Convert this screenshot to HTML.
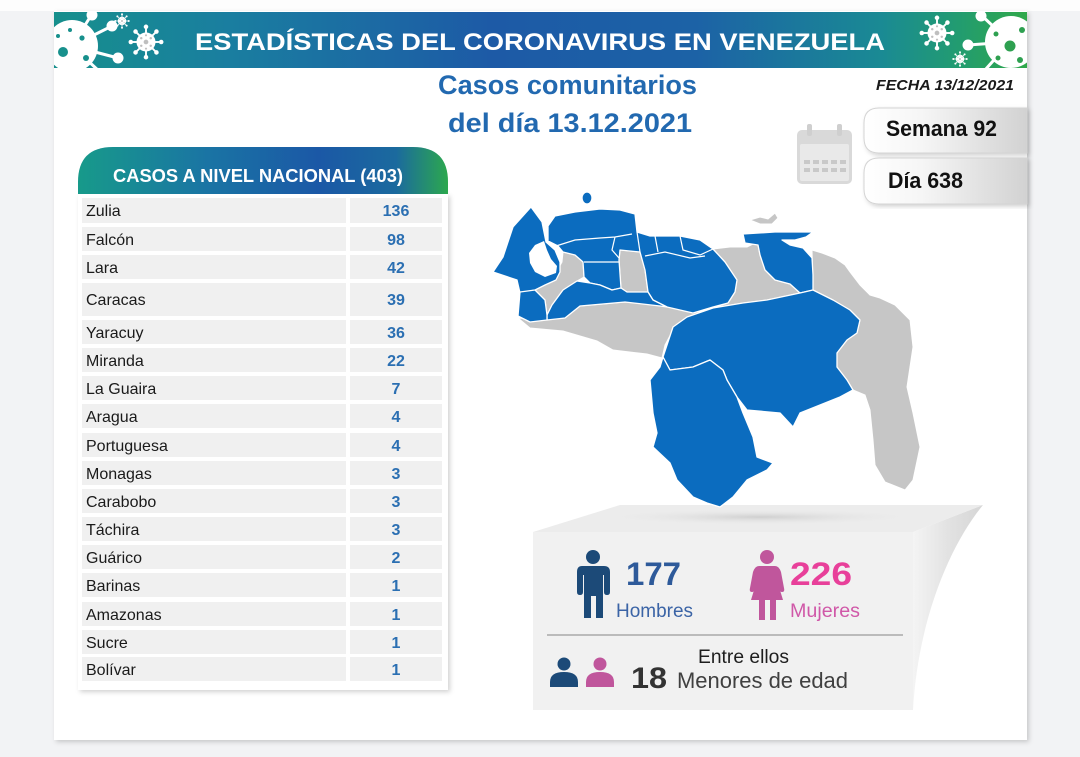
<!DOCTYPE html>
<html><head><meta charset="utf-8"><style>
html,body{margin:0;padding:0;background:#f2f3f5;}
svg{display:block;font-family:"Liberation Sans",sans-serif;}
</style></head><body>
<svg width="1080" height="757" viewBox="0 0 1080 757" xmlns="http://www.w3.org/2000/svg">
<defs>
<linearGradient id="hg" x1="0" y1="0" x2="1" y2="0">
<stop offset="0" stop-color="#168f8c"/><stop offset="0.18" stop-color="#1a7ea0"/><stop offset="0.45" stop-color="#1d5aa6"/><stop offset="0.66" stop-color="#1c62a6"/><stop offset="0.85" stop-color="#1a8a94"/><stop offset="0.93" stop-color="#229c70"/><stop offset="1" stop-color="#30a84a"/>
</linearGradient>
<linearGradient id="tg" x1="0" y1="0" x2="1" y2="0">
<stop offset="0" stop-color="#179a8a"/><stop offset="0.35" stop-color="#1a74a4"/><stop offset="0.65" stop-color="#1b58a6"/><stop offset="0.86" stop-color="#1b6a9e"/><stop offset="1" stop-color="#2ca84e"/>
</linearGradient>
<linearGradient id="bg" x1="0" y1="0" x2="1" y2="0">
<stop offset="0" stop-color="#ffffff"/><stop offset="0.35" stop-color="#f6f6f6"/><stop offset="1" stop-color="#d2d2d2"/>
</linearGradient>
<linearGradient id="sg" x1="0" y1="0" x2="1" y2="0">
<stop offset="0" stop-color="#f4f4f4"/><stop offset="0.5" stop-color="#e2e2e2"/><stop offset="1" stop-color="#d6d6d6"/>
</linearGradient>
<radialGradient id="msh" cx="0.5" cy="0.5" r="0.5">
<stop offset="0" stop-color="#cfcfcf"/><stop offset="1" stop-color="#ececec" stop-opacity="0"/>
</radialGradient>
<filter id="ds" x="-10%" y="-10%" width="120%" height="120%"><feDropShadow dx="2" dy="2" stdDeviation="2.5" flood-opacity="0.18"/></filter>
<clipPath id="hc"><rect x="54" y="12" width="973" height="56"/></clipPath>
<g id="vir">
<g stroke="#fff" stroke-width="2">
<line x1="0" y1="0" x2="0" y2="-16"/><line x1="0" y1="0" x2="0" y2="16"/><line x1="0" y1="0" x2="-16" y2="0"/><line x1="0" y1="0" x2="16" y2="0"/>
<line x1="0" y1="0" x2="11" y2="11"/><line x1="0" y1="0" x2="-11" y2="11"/><line x1="0" y1="0" x2="11" y2="-11"/><line x1="0" y1="0" x2="-11" y2="-11"/>
</g>
<g fill="#fff"><circle r="10"/><circle cy="-16" r="2.4"/><circle cy="16" r="2.4"/><circle cx="-16" r="2.4"/><circle cx="16" r="2.4"/><circle cx="11" cy="11" r="2.4"/><circle cx="-11" cy="11" r="2.4"/><circle cx="11" cy="-11" r="2.4"/><circle cx="-11" cy="-11" r="2.4"/></g>
<g fill="#000" fill-opacity="0.25"><circle r="2.5"/><circle cx="-5" cy="-4" r="1.3"/><circle cx="5" cy="-4" r="1.3"/><circle cx="-5" cy="4" r="1.3"/><circle cx="5" cy="4" r="1.3"/><circle cy="-7" r="1.1"/><circle cy="7" r="1.1"/></g>
</g>
</defs>

<!-- background & card -->
<rect x="0" y="0" width="1080" height="757" fill="#f2f3f5"/>
<rect x="0" y="0" width="1080" height="11" fill="#fdfdfd"/>
<rect x="54" y="11" width="973" height="729" fill="#ffffff" filter="url(#ds)"/>

<!-- header band -->
<rect x="54" y="12" width="973" height="56" fill="url(#hg)"/>
<g clip-path="url(#hc)">
 <g stroke="#fff" stroke-width="3" fill="#fff">
  <line x1="72" y1="46" x2="112" y2="26"/><circle cx="112" cy="26" r="4"/>
  <line x1="72" y1="46" x2="118" y2="58"/><circle cx="118" cy="58" r="4"/>
  <line x1="72" y1="46" x2="92" y2="14"/><circle cx="92" cy="15" r="4"/>
  <line x1="72" y1="46" x2="100" y2="72"/>
  <line x1="1010" y1="42" x2="968" y2="45"/><circle cx="968" cy="45" r="4"/>
  <line x1="1010" y1="42" x2="980" y2="14"/><circle cx="981" cy="16" r="4"/>
  <line x1="1010" y1="42" x2="985" y2="70"/>
 </g>
 <circle cx="72" cy="46" r="26" fill="#fff"/>
 <g fill="#17908c"><circle cx="63" cy="52" r="5"/><circle cx="82" cy="38" r="2.6"/><circle cx="86" cy="58" r="3"/><circle cx="70" cy="30" r="2"/><circle cx="58" cy="36" r="2"/></g>
 <circle cx="1011" cy="42" r="26" fill="#fff"/>
 <g fill="#2ea050"><circle cx="1010" cy="46" r="5.5"/><circle cx="1022" cy="30" r="3"/><circle cx="996" cy="34" r="2.5"/><circle cx="998" cy="58" r="2.5"/><circle cx="1020" cy="60" r="3"/></g>
</g>
<use href="#vir" transform="translate(146,42) scale(0.95)"/>
<use href="#vir" transform="translate(122,21) scale(0.42)"/>
<use href="#vir" transform="translate(937,33) scale(0.95)"/>
<use href="#vir" transform="translate(960,59) scale(0.42)"/>
<text x="195" y="50" font-size="24" font-weight="bold" fill="#ffffff" textLength="690" lengthAdjust="spacingAndGlyphs">ESTADÍSTICAS DEL CORONAVIRUS EN VENEZUELA</text>

<!-- titles -->
<text x="438" y="94" font-size="27" font-weight="bold" fill="#2269b0" textLength="259" lengthAdjust="spacingAndGlyphs">Casos comunitarios</text>
<text x="448" y="132" font-size="27" font-weight="bold" fill="#2269b0" textLength="244" lengthAdjust="spacingAndGlyphs">del día 13.12.2021</text>
<text x="876" y="90" font-size="15" font-weight="bold" font-style="italic" fill="#1a1a1a" textLength="138" lengthAdjust="spacingAndGlyphs">FECHA 13/12/2021</text>

<!-- calendar icon -->
<g>
 <rect x="797" y="130" width="55" height="54" rx="5" fill="#d9d9d9"/>
 <rect x="800" y="144" width="49" height="37" rx="2" fill="#e9e9e9"/>
 <rect x="807" y="124" width="5" height="12" rx="2" fill="#cfcfcf"/>
 <rect x="837" y="124" width="5" height="12" rx="2" fill="#cfcfcf"/>
 <g fill="#c9c9c9">
  <rect x="804" y="160" width="6" height="4"/><rect x="813" y="160" width="6" height="4"/><rect x="822" y="160" width="6" height="4"/><rect x="831" y="160" width="6" height="4"/><rect x="840" y="160" width="6" height="4"/>
  <rect x="804" y="168" width="6" height="4"/><rect x="813" y="168" width="6" height="4"/><rect x="822" y="168" width="6" height="4"/><rect x="831" y="168" width="6" height="4"/><rect x="840" y="168" width="6" height="4"/>
 </g>
</g>

<!-- Semana / Día boxes -->
<path d="M879,108 H1027 V153 H879 Q864,153 864,138 V123 Q864,108 879,108 Z" fill="url(#bg)" stroke="#d4d4d4" filter="url(#ds)"/>
<path d="M879,158 H1027 V204 H879 Q864,204 864,189 V173 Q864,158 879,158 Z" fill="url(#bg)" stroke="#d4d4d4" filter="url(#ds)"/>
<text x="886" y="136" font-size="22" font-weight="bold" fill="#111" textLength="111" lengthAdjust="spacingAndGlyphs">Semana 92</text>
<text x="888" y="188" font-size="22" font-weight="bold" fill="#111" textLength="75" lengthAdjust="spacingAndGlyphs">Día 638</text>

<!-- table -->
<rect x="78" y="194" width="370" height="496" fill="#ffffff" filter="url(#ds)"/>
<path d="M78,194 V182 Q78,147 113,147 H413 Q448,147 448,182 V194 Z" fill="url(#tg)"/>
<text x="113" y="182" font-size="18" font-weight="bold" fill="#ffffff" textLength="290" lengthAdjust="spacingAndGlyphs">CASOS A NIVEL NACIONAL  (403)</text>
<g fill="#f0f0f0">
<rect x="82" y="198" width="264" height="25"/><rect x="350" y="198" width="92" height="25"/>
<rect x="82" y="227" width="264" height="24"/><rect x="350" y="227" width="92" height="24"/>
<rect x="82" y="255" width="264" height="24"/><rect x="350" y="255" width="92" height="24"/>
<rect x="82" y="283" width="264" height="33"/><rect x="350" y="283" width="92" height="33"/>
<rect x="82" y="320" width="264" height="24"/><rect x="350" y="320" width="92" height="24"/>
<rect x="82" y="348" width="264" height="24"/><rect x="350" y="348" width="92" height="24"/>
<rect x="82" y="376" width="264" height="24"/><rect x="350" y="376" width="92" height="24"/>
<rect x="82" y="404" width="264" height="24"/><rect x="350" y="404" width="92" height="24"/>
<rect x="82" y="433" width="264" height="24"/><rect x="350" y="433" width="92" height="24"/>
<rect x="82" y="461" width="264" height="24"/><rect x="350" y="461" width="92" height="24"/>
<rect x="82" y="489" width="264" height="24"/><rect x="350" y="489" width="92" height="24"/>
<rect x="82" y="517" width="264" height="24"/><rect x="350" y="517" width="92" height="24"/>
<rect x="82" y="545" width="264" height="24"/><rect x="350" y="545" width="92" height="24"/>
<rect x="82" y="573" width="264" height="24"/><rect x="350" y="573" width="92" height="24"/>
<rect x="82" y="602" width="264" height="24"/><rect x="350" y="602" width="92" height="24"/>
<rect x="82" y="630" width="264" height="24"/><rect x="350" y="630" width="92" height="24"/>
<rect x="82" y="657" width="264" height="24"/><rect x="350" y="657" width="92" height="24"/>
</g>
<g font-size="16" fill="#1a1a1a">
<text x="86" y="216">Zulia</text>
<text x="86" y="245">Falcón</text>
<text x="86" y="273">Lara</text>
<text x="86" y="305">Caracas</text>
<text x="86" y="338">Yaracuy</text>
<text x="86" y="366">Miranda</text>
<text x="86" y="394">La Guaira</text>
<text x="86" y="422">Aragua</text>
<text x="86" y="451">Portuguesa</text>
<text x="86" y="479">Monagas</text>
<text x="86" y="507">Carabobo</text>
<text x="86" y="535">Táchira</text>
<text x="86" y="563">Guárico</text>
<text x="86" y="591">Barinas</text>
<text x="86" y="620">Amazonas</text>
<text x="86" y="648">Sucre</text>
<text x="86" y="675">Bolívar</text>
</g>
<g font-size="16" font-weight="bold" fill="#2b6fb2" text-anchor="middle">
<text x="396" y="216">136</text>
<text x="396" y="245">98</text>
<text x="396" y="273">42</text>
<text x="396" y="305">39</text>
<text x="396" y="338">36</text>
<text x="396" y="366">22</text>
<text x="396" y="394">7</text>
<text x="396" y="422">4</text>
<text x="396" y="451">4</text>
<text x="396" y="479">3</text>
<text x="396" y="507">3</text>
<text x="396" y="535">3</text>
<text x="396" y="563">2</text>
<text x="396" y="591">1</text>
<text x="396" y="620">1</text>
<text x="396" y="648">1</text>
<text x="396" y="675">1</text>
</g>

<!-- gender panel -->
<path d="M983,505 C950,545 918,620 913,710 L913,532 Z" fill="url(#sg)"/>
<path d="M533,532 L620,505 L983,505 L913,532 Z" fill="#ececec"/>
<ellipse cx="760" cy="517" rx="160" ry="8" fill="url(#msh)"/>
<rect x="533" y="532" width="380" height="178" fill="#f1f1f1"/>
<!-- man -->
<g fill="#1c4a78">
 <circle cx="593" cy="557" r="7"/>
 <path d="M582,566 H604 Q610,566 610,572 V592 Q610,595 607,595 Q604,595 604,592 V575 H603 V618 H596 V596 H591 V618 H584 V575 H583 V592 Q583,595 580,595 Q577,595 577,592 V572 Q577,566 582,566 Z"/>
</g>
<!-- woman -->
<g fill="#c0569c">
 <circle cx="767" cy="557" r="7"/>
 <path d="M759,566 H775 Q779,566 781,572 L784,588 Q785,592 782,592 Q780,592 779,589 L776,577 L783,600 H776 V620 H770 V600 H765 V620 H759 V600 H751 L758,577 L755,589 Q754,592 752,592 Q749,592 750,588 L753,572 Q755,566 759,566 Z"/>
</g>
<text x="626" y="585" font-size="32" font-weight="bold" fill="#2e5a9a" textLength="55" lengthAdjust="spacingAndGlyphs">177</text>
<text x="616" y="617" font-size="19" fill="#3b64a6" textLength="77" lengthAdjust="spacingAndGlyphs">Hombres</text>
<text x="790" y="585" font-size="32" font-weight="bold" fill="#e8409a" textLength="62" lengthAdjust="spacingAndGlyphs">226</text>
<text x="790" y="617" font-size="19" fill="#d058a8" textLength="70" lengthAdjust="spacingAndGlyphs">Mujeres</text>
<line x1="547" y1="635" x2="903" y2="635" stroke="#a9a9a9" stroke-width="1.5"/>
<text x="698" y="663" font-size="19" fill="#1e1e1e" textLength="91" lengthAdjust="spacingAndGlyphs">Entre ellos</text>
<g fill="#1c4a78"><circle cx="564" cy="664" r="6.5"/><path d="M550,687 V682 Q550,672 564,672 Q578,672 578,682 V687 Z"/></g>
<g fill="#c0569c"><circle cx="600" cy="664" r="6.5"/><path d="M586,687 V682 Q586,672 600,672 Q614,672 614,682 V687 Z"/></g>
<text x="631" y="688" font-size="30" font-weight="bold" fill="#333333" textLength="36" lengthAdjust="spacingAndGlyphs">18</text>
<text x="677" y="688" font-size="22" fill="#404040" textLength="171" lengthAdjust="spacingAndGlyphs">Menores de edad</text>

<!-- map -->
<g fill="#c6c6c6" stroke="#ffffff" stroke-width="1">
<polygon points="518,318 545,320 565,318 580,306 625,302 667,306 700,312 685,322 673,330 665,345 662,358 647,354 613,350 597,341 563,331 530,328"/>
<polygon points="535,290 545,284 556,273 562,262 563,252 575,255 583,262 584,277 577,281 563,290 552,305 547,315 545,300"/>
<polygon points="620,250 640,252 645,270 648,292 627,292 621,288 619,260"/>
<polygon points="713,249 730,247 747,247 757,242 758,245 760,255 765,270 775,280 790,284 800,293 767,300 743,303 713,308 728,303 735,292 737,280 725,262"/>
<polygon points="812,250 822,253 835,258 845,265 850,272 860,285 870,295 880,298 895,305 910,320 913,347 907,387 913,413 920,447 913,480 905,490 885,482 875,465 873,440 870,410 865,395 853,390 847,380 837,367 837,353 847,340 857,333 860,320 850,310 833,300 813,290"/>
<polygon points="750,220 760,217 768,219 775,213 778,218 772,224 760,224"/>
</g>
<g fill="#0b6cbf" stroke="#ffffff" stroke-width="1.3" stroke-linejoin="round">
<polygon points="531,207 542,222 546,242 555,250 560,262 560,272 556,280 545,285 535,290 520,293 517,280 493,272 503,257 513,227"/>
<polygon points="548,226 555,216 575,212 600,209 620,210 635,214 637,232 650,236 680,236 700,240 713,249 725,262 737,280 735,292 728,303 713,307 693,313 667,307 653,300 648,292 645,270 640,252 620,250 619,260 621,288 612,290 600,285 590,283 584,277 583,262 575,255 563,252 558,246 548,241"/>
<polygon points="547,315 552,305 563,290 577,281 590,283 600,285 612,290 621,288 627,292 648,292 653,300 667,307 660,306 625,302 580,306 565,318 547,320"/>
<polygon points="520,292 535,290 545,300 547,315 547,320 530,322 518,316"/>
<polygon points="743,234 775,232 813,232 806,237 795,240 782,240 790,245 803,248 812,258 813,275 813,290 800,293 790,284 775,280 765,270 760,255 758,245 745,243"/>
<polygon points="673,327 687,317 713,308 743,303 767,300 800,293 813,290 833,300 850,310 860,320 857,333 847,340 837,353 837,367 847,380 853,390 840,397 800,413 793,427 780,413 747,410 737,397 727,380 723,370 710,360 693,367 670,370 663,357"/>
<polygon points="663,357 670,370 693,367 710,360 723,370 727,380 737,397 743,413 753,437 757,457 773,463 767,470 747,480 733,497 720,507 707,503 693,497 677,480 670,463 653,447 657,433 653,413 650,380 660,367"/>
<ellipse cx="587" cy="198" rx="5" ry="6"/>
</g>
<polygon points="544,241 535,245 529,253 530,263 535,272 545,277 556,273 557,266 551,259 547,250" fill="#ffffff"/>
<g fill="none" stroke="#ffffff" stroke-width="1.2">
<polyline points="556,246 575,240 600,238 615,237 632,234"/>
<polyline points="615,237 612,250 619,258"/>
<polyline points="637,232 640,252"/>
<polyline points="655,236 658,252"/>
<polyline points="680,236 683,250 700,255 713,249"/>
<polyline points="645,256 665,252 690,258 705,256"/>
<polyline points="584,262 600,262 619,262"/>
</g>
</svg>
</body></html>
